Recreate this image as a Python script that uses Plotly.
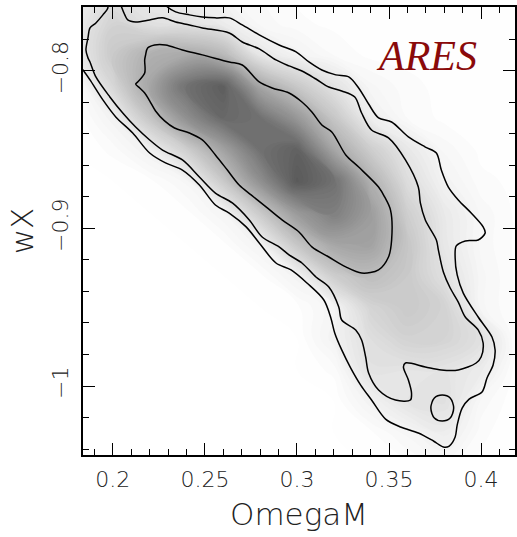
import plotly.graph_objects as go

# Posterior density grid (normalised, 1 = densest), rows follow wx_grid, columns follow om_grid
om_grid = [0.18, 0.20, 0.22, 0.24, 0.26, 0.28, 0.30, 0.32, 0.34, 0.36, 0.38, 0.40, 0.42]
wx_grid = [-1.05, -1.03, -1.01, -0.99, -0.97, -0.95, -0.93, -0.91, -0.89, -0.87,
           -0.85, -0.83, -0.81, -0.79, -0.77, -0.75]
density = [
    [0, 0, 0, 0, 0, 0, 0, 0, 0, 0.01, 0.03, 0.01, 0],
    [0, 0, 0, 0, 0, 0, 0, 0, 0.01, 0.05, 0.10, 0.02, 0],
    [0, 0, 0, 0, 0, 0, 0, 0, 0.07, 0.15, 0.17, 0.04, 0],
    [0, 0, 0, 0, 0, 0, 0, 0.02, 0.16, 0.15, 0.15, 0.11, 0],
    [0, 0, 0, 0, 0, 0, 0, 0.07, 0.18, 0.25, 0.24, 0.17, 0],
    [0, 0, 0, 0, 0, 0, 0.01, 0.06, 0.24, 0.30, 0.25, 0.05, 0.01],
    [0, 0, 0, 0, 0, 0.01, 0.07, 0.28, 0.37, 0.30, 0.17, 0.05, 0.01],
    [0, 0, 0, 0, 0.01, 0.07, 0.32, 0.50, 0.52, 0.32, 0.13, 0.04, 0.01],
    [0, 0, 0, 0.01, 0.06, 0.30, 0.57, 0.72, 0.55, 0.27, 0.12, 0.04, 0.01],
    [0, 0, 0.01, 0.05, 0.30, 0.62, 0.92, 0.80, 0.44, 0.19, 0.07, 0.02, 0.01],
    [0, 0.02, 0.08, 0.27, 0.52, 0.80, 0.88, 0.50, 0.28, 0.13, 0.04, 0.01, 0.01],
    [0, 0.07, 0.32, 0.62, 0.84, 0.80, 0.58, 0.32, 0.10, 0.03, 0.01, 0.01, 0.01],
    [0, 0.22, 0.50, 0.80, 0.90, 0.50, 0.31, 0.16, 0.05, 0.02, 0.01, 0.01, 0.01],
    [0.10, 0.30, 0.44, 0.48, 0.40, 0.14, 0.07, 0.03, 0.01, 0.01, 0.01, 0.01, 0.01],
    [0.11, 0.25, 0.17, 0.16, 0.11, 0.04, 0.02, 0.01, 0.01, 0.01, 0.01, 0.01, 0.01],
    [0.10, 0.15, 0.12, 0.08, 0.05, 0.03, 0.01, 0.01, 0.01, 0.01, 0.01, 0.01, 0.01],
]

# Outer credible contour (runs out through the top and left edges)
outer_om = [0.2270, 0.2297, 0.2341, 0.2416, 0.2486, 0.2557, 0.2632, 0.2703, 0.2795, 0.2903,
            0.2995, 0.3065, 0.3135, 0.3211, 0.3281, 0.3335, 0.3389, 0.3443, 0.3514, 0.3605,
            0.3697, 0.3757, 0.3784, 0.3822, 0.3876, 0.3946, 0.4011, 0.4022, 0.3984, 0.3914,
            0.3865, 0.3859, 0.3870, 0.3903, 0.3984, 0.4059, 0.4076, 0.4065, 0.4032, 0.4005,
            0.3935, 0.3897, 0.3870, 0.3859, 0.3827, 0.3795, 0.3741, 0.3659, 0.3562, 0.3481,
            0.3405, 0.3346, 0.3292, 0.3243, 0.3205, 0.3184, 0.3146, 0.3054, 0.2968, 0.2886,
            0.2795, 0.2724, 0.2632, 0.2557, 0.2470, 0.2378, 0.2286, 0.2200, 0.2108, 0.2016,
            0.1946, 0.1876, 0.1838, 0.1800]
outer_wx = [-0.7549, -0.7594, -0.7625, -0.7644, -0.7657, -0.7663, -0.7663, -0.7708, -0.7771, -0.7835,
            -0.7879, -0.7943, -0.7994, -0.8025, -0.8038, -0.8108, -0.8210, -0.8298, -0.8324, -0.8419,
            -0.8483, -0.8521, -0.8629, -0.8737, -0.8819, -0.8902, -0.8990, -0.9029, -0.9073, -0.9079,
            -0.9111, -0.9187, -0.9295, -0.9410, -0.9562, -0.9689, -0.9771, -0.9867, -0.9949, -1.0038,
            -1.0083, -1.0140, -1.0248, -1.0324, -1.0381, -1.0387, -1.0349, -1.0298, -1.0260, -1.0210,
            -1.0089, -0.9994, -0.9886, -0.9771, -0.9663, -0.9568, -0.9454, -0.9346, -0.9263, -0.9219,
            -0.9092, -0.8990, -0.8902, -0.8851, -0.8724, -0.8629, -0.8584, -0.8521, -0.8394, -0.8292,
            -0.8184, -0.8057, -0.7994, -0.7943]

# Middle credible contour (both ends leave through the top edge)
middle_om = [0.1962, 0.1973, 0.1946, 0.1908, 0.1876, 0.1865, 0.1854, 0.1865, 0.1876, 0.1908,
             0.1984, 0.2054, 0.2124, 0.2200, 0.2270, 0.2378, 0.2470, 0.2557, 0.2649, 0.2741,
             0.2811, 0.2903, 0.2957, 0.3027, 0.3103, 0.3173, 0.3227, 0.3243, 0.3319, 0.3351,
             0.3373, 0.3389, 0.3443, 0.3535, 0.3616, 0.3622, 0.3605, 0.3578, 0.3589, 0.3697,
             0.3784, 0.3876, 0.3973, 0.4000, 0.4011, 0.3984, 0.3914, 0.3876, 0.3832, 0.3795,
             0.3768, 0.3757, 0.3697, 0.3670, 0.3659, 0.3589, 0.3497, 0.3405, 0.3351, 0.3314,
             0.3243, 0.3173, 0.3103, 0.3027, 0.2957, 0.2886, 0.2795, 0.2703, 0.2632, 0.2486,
             0.2416, 0.2341, 0.2270, 0.2200, 0.2124, 0.2081, 0.2065, 0.2043, 0.2032]
middle_wx = [-0.7549, -0.7600, -0.7644, -0.7695, -0.7727, -0.7790, -0.7867, -0.7917, -0.7943, -0.8038,
             -0.8165, -0.8267, -0.8356, -0.8438, -0.8502, -0.8565, -0.8673, -0.8775, -0.8838, -0.8946,
             -0.9054, -0.9117, -0.9168, -0.9219, -0.9308, -0.9371, -0.9498, -0.9581, -0.9644, -0.9708,
             -0.9816, -0.9917, -1.0025, -1.0089, -1.0089, -1.0044, -0.9962, -0.9879, -0.9854, -0.9879,
             -0.9898, -0.9898, -0.9854, -0.9816, -0.9727, -0.9644, -0.9562, -0.9467, -0.9378, -0.9276,
             -0.9137, -0.9073, -0.8946, -0.8838, -0.8737, -0.8565, -0.8425, -0.8375, -0.8267, -0.8165,
             -0.8127, -0.8102, -0.8051, -0.8000, -0.7968, -0.7930, -0.7860, -0.7816, -0.7759, -0.7727,
             -0.7708, -0.7689, -0.7663, -0.7676, -0.7689, -0.7676, -0.7644, -0.7581, -0.7549]

# Small isolated island at the middle level
island_om = [0.3789, 0.3832, 0.3851, 0.3832, 0.3789, 0.3746, 0.3727, 0.3746, 0.3789]
island_wx = [-1.0057, -1.0076, -1.0140, -1.0203, -1.0222, -1.0203, -1.0140, -1.0076, -1.0057]

# Inner credible contour (closed)
inner_om = [0.2173, 0.2173, 0.2135, 0.2124, 0.2146, 0.2173, 0.2200, 0.2232, 0.2281, 0.2335,
            0.2416, 0.2486, 0.2557, 0.2622, 0.2686, 0.2751, 0.2832, 0.2919, 0.3011, 0.3081,
            0.3173, 0.3265, 0.3351, 0.3443, 0.3497, 0.3514, 0.3508, 0.3476, 0.3443, 0.3335,
            0.3265, 0.3189, 0.3135, 0.3081, 0.3027, 0.2957, 0.2865, 0.2795, 0.2703, 0.2632,
            0.2486, 0.2378, 0.2286, 0.2227, 0.2189, 0.2178, 0.2173]
inner_wx = [-0.7930, -0.8013, -0.8070, -0.8083, -0.8108, -0.8140, -0.8190, -0.8254, -0.8317, -0.8362,
            -0.8394, -0.8438, -0.8533, -0.8629, -0.8724, -0.8787, -0.8863, -0.8946, -0.9022, -0.9117,
            -0.9181, -0.9244, -0.9283, -0.9263, -0.9181, -0.9073, -0.8883, -0.8800, -0.8737, -0.8610,
            -0.8533, -0.8387, -0.8343, -0.8260, -0.8197, -0.8140, -0.8108, -0.8070, -0.7962, -0.7943,
            -0.7898, -0.7867, -0.7835, -0.7835, -0.7854, -0.7898, -0.7930]

x_ticks = [0.2, 0.25, 0.3, 0.35, 0.4]
y_ticks = [-1.0, -0.9, -0.8]

fig = go.Figure()

# Grey density shading as finely stepped, smoothed filled bands
fig.add_trace(go.Contour(
    x=om_grid, y=wx_grid, z=density,
    zmin=0, zmax=1, showscale=False,
    contours=dict(start=0.0, end=1.0, size=0.015, coloring="fill"),
    line=dict(width=0, smoothing=1.3),
    colorscale=[[0, "rgb(255,255,255)"], [1, "rgb(78,78,78)"]],
    hoverinfo="skip",
))

line_style = dict(color="black", width=1.5, shape="spline", smoothing=0.9)
for xs, ys in [(outer_om, outer_wx), (middle_om, middle_wx),
               (island_om, island_wx), (inner_om, inner_wx)]:
    fig.add_trace(go.Scatter(x=xs, y=ys, mode="lines", line=line_style,
                             hoverinfo="skip", showlegend=False))

tick_font = dict(family="DejaVu Sans", size=22, color="#222222", weight=200)
title_font = dict(family="DejaVu Sans", size=31, color="#222222", weight=200)

fig.update_layout(
    width=517, height=537,
    margin=dict(l=83, r=0, t=7, b=82),
    paper_bgcolor="white", plot_bgcolor="white",
    showlegend=False,
    xaxis=dict(
        range=[0.1838, 0.4184], tickvals=x_ticks, ticktext=[f"{v:g}" for v in x_ticks],
        ticks="inside", ticklen=12, tickwidth=1.4, tickcolor="black",
        minor=dict(dtick=0.01, tick0=0.2, ticks="inside", ticklen=6, tickwidth=1.4, tickcolor="black"),
        showline=True, linecolor="black", linewidth=1.5, mirror="ticks",
        showgrid=False, zeroline=False, tickfont=tick_font, ticklabelstandoff=4,
        title=dict(text="OmegaM", font=title_font, standoff=12),
    ),
    yaxis=dict(
        range=[-1.0438, -0.7594], tickvals=y_ticks, ticktext=["\u22121", "\u22120.9", "\u22120.8"],
        ticks="inside", ticklen=12, tickwidth=1.4, tickcolor="black", tickangle=-90,
        minor=dict(dtick=0.02, tick0=-1.0, ticks="inside", ticklen=6, tickwidth=1.4, tickcolor="black"),
        showline=True, linecolor="black", linewidth=1.5, mirror="ticks",
        showgrid=False, zeroline=False, tickfont=tick_font, ticklabelstandoff=4,
        title=dict(text="wX", font=title_font, standoff=6),
    ),
    annotations=[dict(
        text="ARES", xref="paper", yref="paper", x=0.795, y=0.891,
        xanchor="center", yanchor="middle", showarrow=False,
        font=dict(family="Liberation Serif", size=42, color="#8a0a0a", style="italic"),
    )],
)

fig.write_html("out.html")
